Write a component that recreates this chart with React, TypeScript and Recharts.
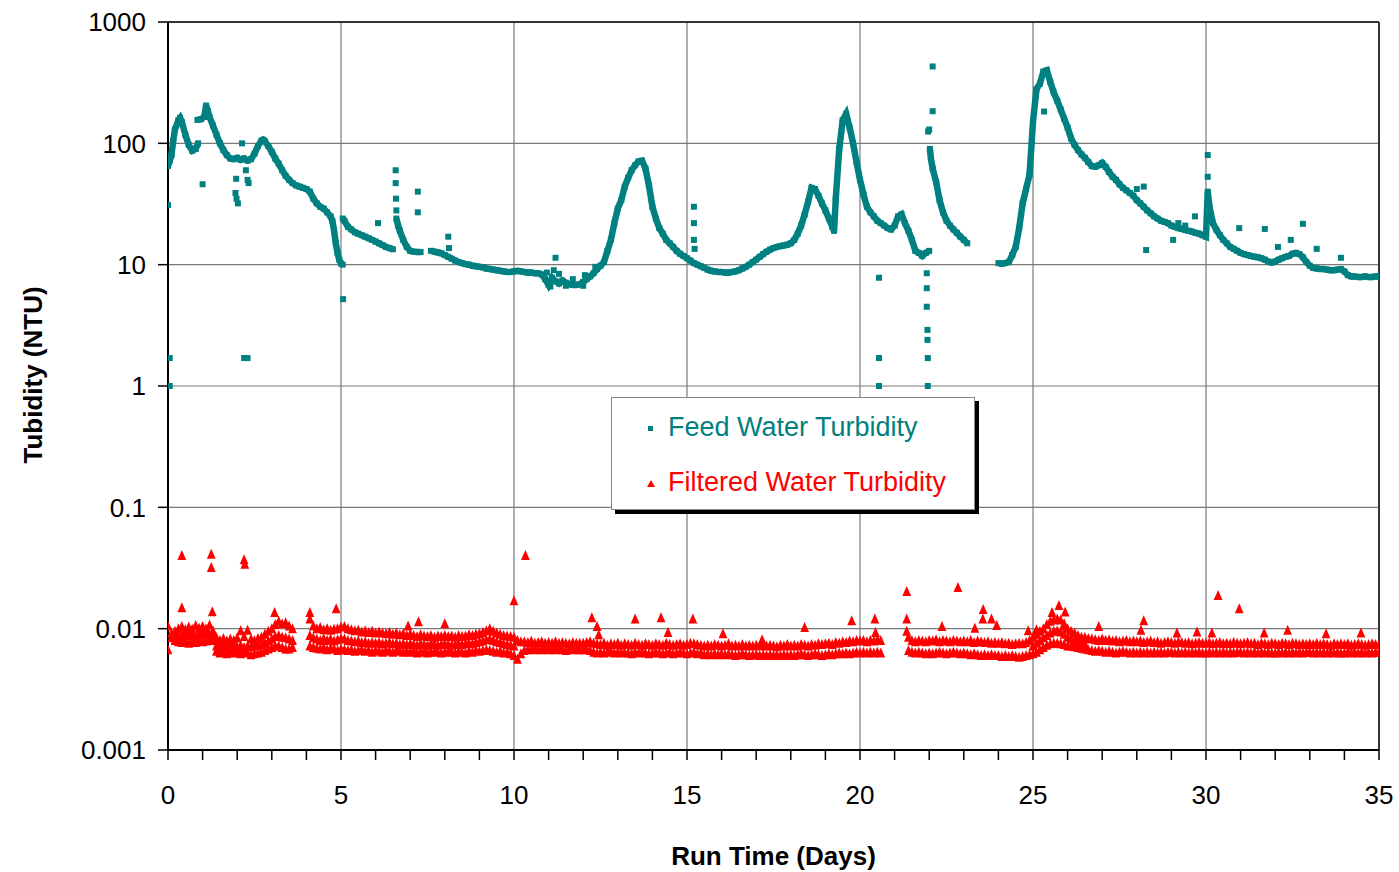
import React from 'react';
import { ScatterChart, Scatter, XAxis, YAxis, ReferenceLine, Label } from 'recharts';

const FONT = '"Liberation Sans", Arial, sans-serif';
const TEAL = '#008080';
const RED = '#FF0000';

// ---- axis ticks ----
const yTicks = [0.001, 0.01, 0.1, 1, 10, 100, 1000];
const xTicks = [0, 1, 2, 3, 4, 5, 6, 7, 8, 9, 10, 11, 12, 13, 14, 15, 16, 17, 18, 19, 20, 21, 22, 23, 24, 25, 26, 27, 28, 29, 30, 31, 32, 33, 34, 35];
const xGridDays = [5, 10, 15, 20, 25, 30];
const yGridValues = [0.01, 0.1, 1, 10, 100];

// ---- Feed water turbidity (NTU): [day, value] ----
const feedSegA: [number, number][] = [
  [0.0, 65], [0.05, 72], [0.1, 80], [0.15, 105], [0.2, 130], [0.3, 155], [0.35, 162], [0.4, 150],
  [0.5, 118], [0.6, 97], [0.7, 87], [0.8, 90], [0.87, 100],
];
const feedSegB: [number, number][] = [
  [0.85, 156], [0.95, 158], [1.05, 165], [1.1, 205], [1.15, 185], [1.2, 165], [1.3, 140], [1.4, 118],
  [1.5, 100], [1.6, 88], [1.7, 80], [1.8, 75], [1.9, 74], [2.0, 76], [2.1, 73], [2.2, 75], [2.3, 72],
  [2.4, 74], [2.5, 82], [2.6, 95], [2.7, 105], [2.75, 107], [2.8, 104], [2.9, 95], [3.0, 85], [3.1, 75],
  [3.2, 68], [3.3, 60], [3.4, 54], [3.5, 50], [3.6, 47], [3.7, 45], [3.8, 44], [3.9, 43], [4.0, 42],
  [4.1, 40], [4.2, 35], [4.3, 32], [4.4, 30], [4.5, 29], [4.6, 27], [4.7, 25], [4.75, 23], [4.8, 19],
  [4.85, 15], [4.9, 12.5], [4.95, 11], [5.0, 10.2], [5.05, 10],
];
const feedSegC: [number, number][] = [
  [5.05, 24], [5.1, 23], [5.2, 20.5], [5.3, 19.5], [5.4, 18.5], [5.5, 18], [5.6, 17.5], [5.7, 17],
  [5.8, 16.5], [5.9, 16], [6.0, 15.5], [6.1, 15], [6.2, 14.5], [6.3, 14], [6.4, 13.7], [6.5, 13.4],
];
const feedSegD: [number, number][] = [
  [6.6, 24], [6.65, 21], [6.7, 19], [6.8, 16], [6.9, 14], [7.0, 13], [7.1, 12.8], [7.2, 12.7], [7.3, 12.7],
];
const feedSegE: [number, number][] = [
  [7.6, 13], [7.7, 12.8], [7.8, 12.6], [7.9, 12.4], [8.0, 12], [8.1, 11.6], [8.2, 11.2], [8.3, 10.8],
  [8.4, 10.5], [8.5, 10.3], [8.6, 10.1], [8.7, 10], [8.8, 9.8], [8.9, 9.7], [9.0, 9.6], [9.1, 9.5],
  [9.2, 9.3], [9.3, 9.2], [9.4, 9.1], [9.5, 9.0], [9.6, 8.9], [9.7, 8.8], [9.8, 8.7], [9.9, 8.7],
  [10.0, 8.8], [10.1, 8.9], [10.2, 8.8], [10.3, 8.7], [10.4, 8.6], [10.5, 8.6], [10.6, 8.5], [10.7, 8.5],
  [10.8, 8.3], [10.9, 7.6], [11.0, 6.8], [11.1, 7.8], [11.2, 7.3], [11.3, 7.0], [11.4, 7.4], [11.5, 7.1],
  [11.6, 6.9], [11.7, 6.8], [11.8, 6.8], [11.9, 6.9], [12.0, 7.2], [12.1, 7.6], [12.2, 8.0], [12.3, 8.5],
  [12.4, 9.2], [12.5, 9.8], [12.6, 10.5], [12.7, 13], [12.8, 16], [12.9, 22], [13.0, 29], [13.1, 34],
  [13.2, 44], [13.3, 52], [13.4, 60], [13.5, 66], [13.6, 71], [13.7, 72], [13.8, 62], [13.9, 45],
  [14.0, 30], [14.1, 24], [14.2, 20], [14.3, 18], [14.4, 16], [14.5, 15], [14.6, 14], [14.7, 13],
  [14.8, 12.3], [14.9, 11.8], [15.0, 11.3], [15.1, 10.8], [15.2, 10.3], [15.3, 10], [15.4, 9.7], [15.5, 9.4],
  [15.6, 9.1], [15.7, 8.9], [15.8, 8.8], [15.9, 8.7], [16.0, 8.7], [16.1, 8.6], [16.2, 8.6], [16.3, 8.7],
  [16.4, 8.8], [16.5, 9.0], [16.6, 9.3], [16.7, 9.6], [16.8, 10], [16.9, 10.5], [17.0, 11], [17.1, 11.6],
  [17.2, 12.2], [17.3, 12.8], [17.4, 13.3], [17.5, 13.7], [17.6, 14], [17.7, 14.2], [17.8, 14.4], [17.9, 14.6],
  [18.0, 15], [18.1, 16], [18.2, 18], [18.3, 21], [18.4, 26], [18.5, 33], [18.6, 43], [18.7, 42],
  [18.8, 37], [18.9, 32], [19.0, 28], [19.1, 24], [19.2, 20.5], [19.25, 19], [19.3, 35], [19.4, 90],
  [19.5, 155], [19.6, 175], [19.7, 135], [19.8, 100], [19.9, 70], [20.0, 50], [20.1, 38], [20.2, 30],
  [20.3, 27], [20.4, 25], [20.5, 23], [20.6, 22], [20.7, 21], [20.8, 20], [20.9, 19.5], [21.0, 21],
  [21.1, 25], [21.2, 26], [21.3, 22], [21.4, 19], [21.5, 16], [21.6, 13], [21.7, 12.5], [21.8, 11.8],
  [21.9, 12.5], [22.0, 13],
];
const feedSegF: [number, number][] = [
  [22.02, 90], [22.05, 75], [22.1, 62], [22.2, 48], [22.3, 34], [22.4, 27], [22.5, 23], [22.6, 21],
  [22.7, 19.5], [22.8, 18.3], [22.9, 17], [23.0, 16], [23.1, 15],
];
const feedSegG: [number, number][] = [
  [24.0, 10.3], [24.1, 10.2], [24.2, 10.3], [24.3, 10.5], [24.4, 12], [24.5, 14], [24.6, 20], [24.7, 32],
  [24.8, 42], [24.9, 55], [25.0, 150], [25.1, 280], [25.2, 310], [25.3, 390], [25.4, 400], [25.5, 320],
  [25.6, 262], [25.7, 225], [25.8, 190], [25.9, 160], [26.0, 135], [26.1, 110], [26.2, 97], [26.3, 88],
  [26.4, 81], [26.5, 76], [26.6, 70], [26.7, 65], [26.8, 64], [26.9, 66], [27.0, 69], [27.1, 64],
  [27.2, 58], [27.3, 53], [27.4, 50], [27.5, 46], [27.6, 43], [27.7, 41], [27.8, 39], [27.9, 37],
  [28.0, 34], [28.1, 32], [28.2, 30], [28.3, 28], [28.4, 26.5], [28.5, 25], [28.6, 24], [28.7, 23],
  [28.8, 22.5], [28.9, 22], [29.0, 21], [29.1, 20.5], [29.2, 20], [29.3, 19.7], [29.4, 19.3], [29.5, 19],
  [29.6, 18.7], [29.7, 18.3], [29.8, 18], [29.9, 17.5], [30.0, 17], [30.05, 40], [30.1, 30], [30.2, 22],
  [30.3, 19.4], [30.4, 17.5], [30.5, 16], [30.6, 15], [30.7, 14], [30.8, 13.5], [30.9, 13], [31.0, 12.5],
  [31.1, 12.2], [31.2, 12], [31.3, 11.8], [31.4, 11.6], [31.5, 11.5], [31.6, 11.3], [31.7, 11], [31.8, 10.6],
  [31.9, 10.4], [32.0, 10.6], [32.1, 11], [32.2, 11.3], [32.3, 11.6], [32.4, 11.8], [32.5, 12.3], [32.6, 12.5],
  [32.7, 12.2], [32.8, 11.5], [32.9, 10.5], [33.0, 9.8], [33.1, 9.4], [33.2, 9.3], [33.3, 9.2], [33.4, 9.2],
  [33.5, 9.1], [33.6, 9.0], [33.7, 9.0], [33.8, 9.1], [33.9, 9.2], [34.0, 8.8], [34.1, 8.2], [34.2, 8.0],
  [34.3, 8.0], [34.4, 7.9], [34.5, 7.9], [34.6, 8.0], [34.7, 7.9], [34.8, 7.9], [34.9, 8.0], [35.0, 8.0],
];
const feedOutliers: [number, number][] = [
  [0.0, 31], [0.05, 1.7], [0.05, 1.0], [1.0, 46], [1.95, 39], [1.98, 35], [2.02, 32], [1.97, 51],
  [2.14, 100], [2.25, 60], [2.3, 50], [2.33, 47], [2.2, 1.7], [2.3, 1.7], [5.06, 5.2], [6.07, 22],
  [6.58, 60], [6.58, 47], [6.59, 35], [6.6, 28], [7.22, 40], [7.22, 27], [8.1, 17], [8.12, 13.7],
  [10.95, 8.6], [11.05, 6.6], [11.15, 9.0], [11.2, 11.4], [11.3, 8.4], [11.5, 6.7], [11.7, 7.6],
  [12.0, 6.7], [12.05, 8.2], [12.35, 9.6],
  [15.2, 30], [15.2, 22], [15.2, 16], [15.22, 13.5], [20.55, 7.8], [20.55, 1.7], [20.55, 1.0],
  [21.93, 8.5], [21.93, 6.4], [21.93, 4.5], [21.95, 2.9], [21.95, 2.4], [21.96, 1.7], [21.96, 1.0],
  [21.97, 125], [22.0, 130], [22.1, 184], [22.1, 430], [25.32, 183], [28.0, 42], [28.2, 44], [28.27, 13.2],
  [29.05, 16], [29.2, 22], [29.4, 21], [29.68, 25], [30.05, 80], [30.05, 53], [30.06, 39], [30.07, 27],
  [30.96, 20], [31.7, 19.7], [32.08, 14], [32.45, 16], [32.8, 21.7], [33.2, 13.5], [33.9, 11.4],
];

// ---- Filtered water turbidity, sampled every 0.1 day (units of 0.0001 NTU) ----
const filtUpperStart = 0;
const filtUpper: (number | null)[] = [
  105, 92, 95, 100, 104, 98, 103, 99, 106, 101,
  104, 100, 107, 96, 84, 80, 83, 79, 82, 80,
  84, 96, 86, 97, 82, 80, 83, 85, 90, 95,
  100, 108, 115, 110, 112, 105, 100, null, null, null,
  null, 120, 105, 100, 102, 98, 100, 97, 99, 100,
  103, 104, 100, 98, 96, 97, 94, 96, 93, 95,
  92, 94, 92, 91, 93, 90, 92, 89, 91, 88,
  90, 88, 86, 89, 87, 86, 88, 85, 87, 86,
  88, 86, 87, 85, 88, 86, 87, 89, 88, 90,
  91, 93, 96, 100, 95, 92, 90, 88, 87, 86,
  85, 80, 78, 78, 77, 79, 76, 77, 78, 76,
  77, 76, 78, 76, 77, 76, 75, 77, 76, 76,
  76, 77, 78, 76, 75, 74, 76, 73, 75, 74,
  76, 73, 75, 74, 73, 76, 74, 73, 75, 74,
  73, 75, 74, 73, 76, 74, 73, 74, 75, 73,
  74, 76, 75, 74, 73, 72, 73, 72, 74, 73,
  72, 73, 75, 72, 73, 72, 74, 72, 73, 72,
  73, 72, 74, 72, 73, 72, 71, 73, 72, 74,
  72, 73, 72, 74, 73, 72, 74, 73, 75, 74,
  75, 76, 74, 77, 76, 78, 77, 79, 78, 80,
  79, 80, 78, 80, 79, 81, 80, null, null, null,
  null, null, null, null, 85, 80, 78, 80, 79, 78,
  80, 79, 81, 78, 80, 79, 78, 80, 79, 78,
  79, 78, 80, 77, 79, 78, 77, 78, 76, 77,
  76, 77, 75, 76, 74, 75, 76, 75, 77, 80,
  85, 90, 95, 100, 108, 115, 118, 120, 118, 110,
  100, 95, 92, 88, 85, 85, 83, 82, 81, 80,
  82, 80, 81, 79, 80, 78, 79, 80, 78, 79,
  78, 79, 77, 78, 79, 77, 78, 76, 77, 78,
  77, 76, 78, 77, 76, 77, 75, 76, 77, 76,
  76, 77, 75, 76, 77, 75, 76, 75, 77, 76,
  75, 76, 77, 75, 76, 74, 76, 75, 74, 76,
  75, 74, 76, 75, 74, 76, 75, 74, 75, 74,
  75, 74, 76, 74, 75, 74, 73, 75, 74, 75,
  74, 75, 73, 74, 75, 74, 73, 74, 75, 74,
  74,
];
const filtLowerStart = 0;
const filtLower: (number | null)[] = [
  67, 84, 80, 78, 77, 80, 76, 79, 77, 80,
  78, 79, 82, 80, 65, 63, 64, 62, 65, 63,
  64, 62, 65, 63, 61, 62, 63, 64, 66, 68,
  70, 72, 72, 70, 68, 68, 70, null, null, null,
  null, 72, 70, 69, 68, 70, 67, 69, 68, 66,
  68, 67, 66, 67, 65, 66, 67, 65, 66, 64,
  66, 65, 64, 66, 65, 64, 66, 65, 64, 65,
  64, 65, 63, 64, 65, 63, 64, 65, 64, 63,
  64, 65, 64, 63, 65, 64, 63, 65, 64, 66,
  65, 66, 67, 66, 65, 64, 65, 63, 64, 62,
  60, 56, 62, 66, 67, 68, 67, 68, 67, 68,
  67, 68, 67, 68, 67, 66, 68, 67, 68, 67,
  67, 68, 66, 64, 63, 64, 63, 64, 65, 63,
  64, 63, 64, 63, 62, 64, 63, 64, 63, 62,
  63, 64, 63, 62, 63, 64, 62, 63, 64, 63,
  62, 63, 64, 62, 63, 61, 62, 61, 62, 61,
  62, 61, 62, 61, 60, 61, 62, 61, 60, 61,
  61, 60, 61, 60, 61, 60, 61, 60, 61, 60,
  61, 60, 61, 62, 61, 60, 61, 62, 61, 60,
  61, 62, 61, 62, 63, 62, 63, 62, 63, 64,
  63, 64, 63, 64, 63, 64, 63, null, null, null,
  null, null, null, null, 66, 64, 63, 64, 63, 62,
  63, 62, 63, 64, 63, 62, 63, 64, 63, 62,
  63, 62, 61, 62, 61, 60, 61, 60, 61, 60,
  60, 59, 60, 59, 60, 59, 58, 59, 60, 61,
  62, 64, 67, 70, 73, 75, 76, 76, 75, 74,
  72, 72, 71, 70, 69, 68, 67, 66, 65, 66,
  65, 64, 65, 64, 63, 64, 65, 64, 63, 64,
  63, 64, 63, 64, 63, 64, 63, 64, 63, 64,
  64, 63, 64, 63, 64, 63, 64, 63, 64, 63,
  63, 64, 63, 64, 63, 64, 63, 64, 63, 64,
  64, 63, 64, 63, 64, 63, 64, 63, 64, 63,
  63, 64, 63, 64, 63, 64, 63, 64, 63, 64,
  64, 63, 64, 63, 64, 63, 64, 63, 64, 63,
  63, 64, 63, 64, 63, 64, 63, 64, 63, 64,
  64,
];
const filtMidAStart = 0;
const filtMidA: (number | null)[] = [
  null, null, 88, 90, 86, 92, 88, 91, 87, 90,
  89, 92, 90, 88, 72, 70, 73, 71, 70, 72,
  71, 73, 70, 72, 71, 73, 72, 74, 76, 79,
  82, 86, 88, 85, 84, 82, 80, null, null, null,
  null, 88, 84, 82, 80, 83, 80, 82, 79, 81,
  83, 82, 80, 79, 78, 79, 77, 78, 76, 77,
  76, 77, 75, 76, 77, 75, 76, 74, 75, 74,
  75, 74, 73, 75, 74, 73, 75, 74, 73, 74,
  75, 74, 73, 74, 75, 74, 75, 76, 75, 77,
  78, 79, 81, 82, 80, 78, 77, 75, 74, 73,
  72,
];
const filtMidBStart = 25;
const filtMidB: (number | null)[] = [
  72, 76, 80, 84, 88, 92, 95, 96, 94, 90,
  85, 82, 80, 78, 76, 75,
];
const filtOutliers: [number, number][] = [
  [0.4, 0.040], [0.4, 0.0149], [1.25, 0.041], [1.25, 0.032], [1.28, 0.0138], [2.2, 0.037], [2.22, 0.034],
  [4.86, 0.0146], [4.1, 0.0136], [3.08, 0.0136], [6.94, 0.0105], [7.24, 0.0114], [8.0, 0.011],
  [10.0, 0.017], [10.33, 0.040], [12.25, 0.0123], [12.4, 0.0104], [12.45, 0.0089], [13.5, 0.012],
  [14.25, 0.0123], [14.45, 0.0093], [15.17, 0.012], [16.04, 0.0091], [17.17, 0.0081], [18.4, 0.0102],
  [19.76, 0.0116], [20.43, 0.012], [20.45, 0.0093], [21.35, 0.0202], [21.35, 0.012], [21.35, 0.0095],
  [22.37, 0.0104], [22.83, 0.0218], [23.32, 0.0101], [23.55, 0.012], [23.56, 0.0144], [23.8, 0.012],
  [23.95, 0.0106], [24.86, 0.0096], [25.1, 0.0098], [25.55, 0.0136], [25.75, 0.0155], [25.9, 0.0105],
  [25.93, 0.0137], [26.9, 0.0104], [28.12, 0.0097], [28.2, 0.0116], [29.16, 0.0092], [29.74, 0.0094],
  [30.17, 0.0092], [30.35, 0.0188], [30.96, 0.0146], [31.68, 0.0092], [32.36, 0.0097], [33.47, 0.0091],
  [34.48, 0.0092],
];

// ---- helpers ----
const pairs = (arr: [number, number][]) => arr.map(([x, y]) => ({ x, y }));
const row = (start: number, vals: (number | null)[]) =>
  vals.flatMap((v, i) => (v == null ? [] : [{ x: Math.round((start + i * 0.1) * 100) / 100, y: v / 10000 }]));

const feedSegments = [feedSegA, feedSegB, feedSegC, feedSegD, feedSegE, feedSegF, feedSegG];
const filtRows = [
  row(filtUpperStart, filtUpper),
  row(filtLowerStart, filtLower),
  row(filtMidAStart, filtMidA),
  row(filtMidBStart, filtMidB),
];

const Square = (props: any) => {
  const { cx, cy } = props;
  if (cx == null || cy == null) return null;
  return <rect x={cx - 3} y={cy - 3} width={6} height={6} fill={TEAL} />;
};
const Tri = (props: any) => {
  const { cx, cy } = props;
  if (cx == null || cy == null) return null;
  return <polygon points={`${cx},${cy - 5.5} ${cx + 4.4},${cy + 4.5} ${cx - 4.4},${cy + 4.5}`} fill={RED} />;
};

const YTitle = (props: any) => {
  const vb = props.viewBox || { x: 0, y: 14, width: 160, height: 728 };
  const cx = 25;
  const cy = vb.y + vb.height / 2 - 11;
  return (
    <text x={cx} y={cy} transform={`rotate(-90 ${cx} ${cy})`} textAnchor="middle" dominantBaseline="central"
      style={{ fontFamily: FONT, fontSize: 26, fontWeight: 'bold', fill: '#000' }}>
      Tubidity (NTU)
    </text>
  );
};
const XTitle = (props: any) => {
  const vb = props.viewBox || { x: 160, y: 742, width: 1211, height: 90 };
  return (
    <text x={vb.x + vb.width / 2} y={vb.y + 115} textAnchor="middle"
      style={{ fontFamily: FONT, fontSize: 26, fontWeight: 'bold', fill: '#000' }}>
      Run Time (Days)
    </text>
  );
};

export default function App() {
  return (
    <div style={{ width: 1399, height: 872, overflow: 'hidden', boxSizing: 'border-box', padding: 8, margin: 0, fontFamily: FONT }}>
      <style>{'html,body{overflow:hidden;margin:0;padding:0;}'}</style>
      <div style={{ position: 'relative', width: 1391, height: 864 }}>
        <ScatterChart width={1391} height={864} margin={{ top: 14, right: 20, bottom: 32, left: 0 }}>
          <XAxis
            type="number"
            dataKey="x"
            domain={[0, 35]}
            ticks={xTicks}
            interval={0}
            allowDataOverflow
            height={90}
            tickSize={10}
            tickMargin={26}
            axisLine={{ stroke: '#000', strokeWidth: 2 }}
            tickLine={{ stroke: '#000', strokeWidth: 1.5 }}
            tick={{ fontSize: 26, fill: '#000', fontFamily: FONT }}
            tickFormatter={(v: number) => (v % 5 === 0 ? String(v) : '')}
          >
            <Label content={<XTitle />} />
          </XAxis>
          <YAxis
            type="number"
            dataKey="y"
            scale="log"
            domain={[0.001, 1000]}
            ticks={yTicks}
            interval={0}
            allowDataOverflow
            width={160}
            tickSize={10}
            tickMargin={12}
            axisLine={{ stroke: '#000', strokeWidth: 2 }}
            tickLine={{ stroke: '#000', strokeWidth: 1.5 }}
            tick={{ fontSize: 26, fill: '#000', fontFamily: FONT }}
            tickFormatter={(v: number) => String(v)}
          >
            <Label content={<YTitle />} />
          </YAxis>
          {xGridDays.map((d) => (
            <ReferenceLine key={'gx' + d} x={d} stroke="#7a7a7a" strokeWidth={1.2} />
          ))}
          {yGridValues.map((v) => (
            <ReferenceLine key={'gy' + v} y={v} stroke="#7a7a7a" strokeWidth={1.2} />
          ))}
          <ReferenceLine y={1000} stroke="#333" strokeWidth={2} />
          <ReferenceLine x={35} stroke="#333" strokeWidth={2} />
          {filtRows.map((r, i) => (
            <Scatter key={'f' + i} data={r} shape={<Tri />} isAnimationActive={false} />
          ))}
          <Scatter data={pairs(filtOutliers)} shape={<Tri />} isAnimationActive={false} />
          {feedSegments.map((s, i) => (
            <Scatter
              key={'s' + i}
              data={pairs(s)}
              shape={<Square />}
              line={{ stroke: TEAL, strokeWidth: 6.5 }}
              lineType="joint"
              isAnimationActive={false}
            />
          ))}
          <Scatter data={pairs(feedOutliers)} shape={<Square />} isAnimationActive={false} />
        </ScatterChart>
        <div
          style={{
            position: 'absolute', left: 603, top: 389, width: 362, height: 111,
            background: '#fff', border: '1px solid #888', boxShadow: '4px 4px 0 #000',
            fontFamily: FONT, fontSize: 27,
          }}
        >
          <div style={{ position: 'absolute', left: 36, top: 28, width: 5, height: 5, background: TEAL }} />
          <div style={{ position: 'absolute', left: 56, top: 14, color: TEAL, whiteSpace: 'nowrap', lineHeight: '30px' }}>
            Feed Water Turbidity
          </div>
          <svg style={{ position: 'absolute', left: 34, top: 81 }} width={10} height={10}>
            <polygon points="5,1 9,8 1,8" fill={RED} />
          </svg>
          <div style={{ position: 'absolute', left: 56, top: 69, color: RED, whiteSpace: 'nowrap', lineHeight: '30px' }}>
            Filtered Water Turbidity
          </div>
        </div>
      </div>
    </div>
  );
}
